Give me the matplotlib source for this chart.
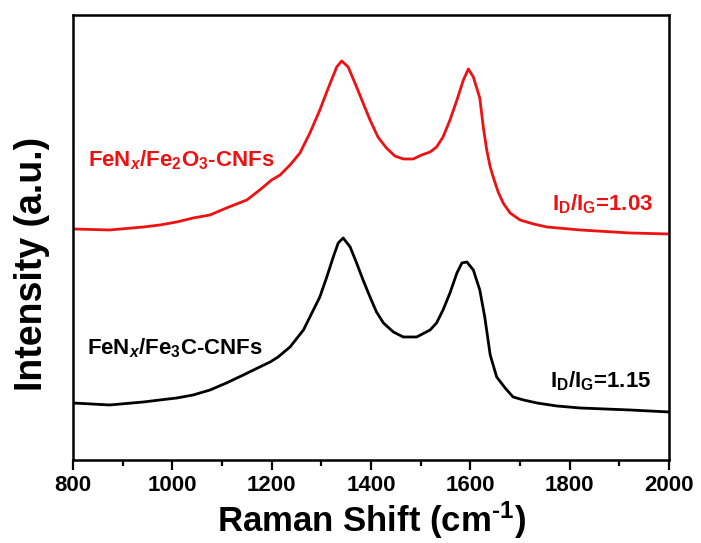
import matplotlib
matplotlib.use("Agg")
import matplotlib.pyplot as plt
from matplotlib.ticker import MultipleLocator

plt.rcParams['font.family'] = ['Liberation Sans', 'DejaVu Sans']
plt.rcParams['font.weight'] = 'bold'
plt.rcParams['mathtext.fontset'] = 'custom'
plt.rcParams['mathtext.rm'] = 'Liberation Sans:bold'
plt.rcParams['mathtext.it'] = 'Liberation Sans:bold:italic'
plt.rcParams['mathtext.bf'] = 'Liberation Sans:bold'

# Raman shift (cm^-1) and intensity (a.u.)
red_shift = [800, 874, 942, 975, 1009, 1042, 1076, 1109, 1150, 1176, 1200, 1217, 1237,
             1257, 1277, 1297, 1314, 1331, 1341, 1354, 1371, 1384, 1398, 1414, 1431,
             1448, 1465, 1485, 1502, 1519, 1532, 1545, 1559, 1573, 1586, 1596, 1606,
             1619, 1626, 1633, 1640, 1646, 1656, 1666, 1680, 1700, 1727, 1754, 1821,
             1921, 2000]
red_int = [231, 230, 233, 235, 238, 242, 245, 252, 260, 270, 280, 285, 295,
           307, 327, 350, 372, 393, 399, 393, 373, 357, 340, 323, 312,
           304, 301, 301, 305, 308, 313, 323, 340, 360, 380, 391, 383,
           362, 333, 310, 293, 283, 268, 257, 247, 240, 236, 233, 230,
           227, 226]

black_shift = [800, 874, 942, 975, 1009, 1042, 1076, 1109, 1143, 1176, 1197, 1213, 1237,
               1264, 1281, 1297, 1311, 1324, 1334, 1344, 1358, 1371, 1384, 1398, 1411,
               1425, 1445, 1465, 1492, 1519, 1532, 1545, 1559, 1573, 1583, 1593, 1606,
               1619, 1629, 1640, 1653, 1670, 1686, 1707, 1734, 1774, 1821, 1921, 2000]
black_int = [57, 55, 58, 60, 62, 65, 70, 77, 85, 93, 98, 103, 113,
             130, 147, 163, 183, 203, 217, 222, 213, 197, 180, 163, 148,
             137, 128, 123, 123, 130, 137, 150, 167, 187, 197, 198, 190,
             170, 143, 105, 83, 72, 63, 60, 57, 54, 52, 50, 48]

red_label = r'FeN$_{x}$/Fe$_{2}$O$_{3}$-CNFs'
black_label = r'FeN$_{x}$/Fe$_{3}$C-CNFs'
red_ratio = r'I$_{\mathrm{D}}$/I$_{\mathrm{G}}$=1.03'
black_ratio = r'I$_{\mathrm{D}}$/I$_{\mathrm{G}}$=1.15'
x_ticks = [800, 1000, 1200, 1400, 1600, 1800, 2000]

RED = '#ee1111'

fig = plt.figure(figsize=(7.01, 5.43), dpi=100)
ax = fig.add_axes([0.1041, 0.1529, 0.8503, 0.8186])

ax.plot(red_shift, red_int, color=RED, lw=2.0, solid_joinstyle='round')
ax.plot(black_shift, black_int, color='black', lw=2.0, solid_joinstyle='round')

ax.set_xlim(800, 2000)
ax.set_ylim(0, 444.5)
ax.set_xticks(x_ticks)
ax.xaxis.set_minor_locator(MultipleLocator(100))
ax.set_yticks([])
ax.tick_params(axis='x', which='major', direction='out', length=7, width=1.6,
               labelsize=16, pad=4, top=False)
ax.tick_params(axis='x', which='minor', direction='out', length=4, width=1.6, top=False)
for lbl in ax.get_xticklabels():
    lbl.set_fontweight('bold')
for sp in ax.spines.values():
    sp.set_linewidth(1.8)

ax.set_xlabel(r'Raman Shift (cm$^{\text{-1}}$)', fontsize=25, fontweight='bold', labelpad=2)
ax.set_ylabel('Intensity (a.u.)', fontsize=27, fontweight='bold')
ax.yaxis.set_label_coords(-0.038, 0.441)

ax.text(830, 294, red_label, color=RED, fontsize=16, fontweight='bold', va='baseline')
ax.text(828, 106, black_label, color='black', fontsize=16, fontweight='bold', va='baseline')
ax.text(1764, 250, red_ratio, color=RED, fontsize=16, fontweight='bold', va='baseline')
ax.text(1760, 73, black_ratio, color='black', fontsize=16, fontweight='bold', va='baseline')

fig.savefig('out.png', dpi=100)
